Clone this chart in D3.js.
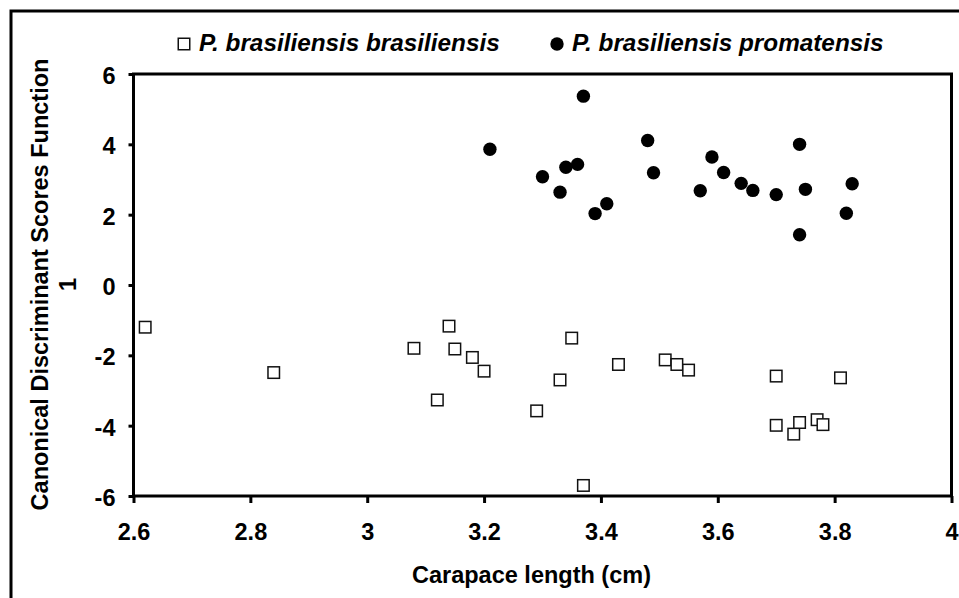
<!DOCTYPE html>
<html>
<head>
<meta charset="utf-8">
<script src="https://cdn.jsdelivr.net/npm/d3@7"></script>
<style>
	body { margin: 0; background: #fff; }
	svg { display: block; }
	text { font-family: Arial, "Liberation Sans", sans-serif; font-weight: bold; fill: #000; }
</style>
</head>
<body>
<div id="chart"></div>
<script>
'use strict';

//Series data
var brasX = [2.62, 2.84, 3.08, 3.14, 3.15, 3.18, 3.12, 3.20, 3.35, 3.33, 3.29, 3.43, 3.51, 3.53, 3.55, 3.37, 3.70, 3.81, 3.70, 3.73, 3.74, 3.77, 3.78];
var brasY = [-1.20, -2.49, -1.80, -1.17, -1.82, -2.06, -3.27, -2.45, -1.51, -2.70, -3.58, -2.26, -2.13, -2.26, -2.42, -5.70, -2.59, -2.64, -3.99, -4.24, -3.91, -3.83, -3.97];

var promX = [3.21, 3.37, 3.30, 3.33, 3.34, 3.36, 3.39, 3.41, 3.48, 3.49, 3.57, 3.59, 3.61, 3.64, 3.66, 3.70, 3.74, 3.75, 3.74, 3.82, 3.83];
var promY = [3.86, 5.37, 3.08, 2.64, 3.35, 3.43, 2.03, 2.31, 4.11, 3.19, 2.68, 3.64, 3.20, 2.89, 2.69, 2.57, 4.00, 2.72, 1.43, 2.04, 2.88];

var xTicks = [2.6, 2.8, 3, 3.2, 3.4, 3.6, 3.8, 4];
var yTicks = [-6, -4, -2, 0, 2, 4, 6];

var seriesNames = ["P. brasiliensis brasiliensis", "P. brasiliensis promatensis"];
var xTitle = "Carapace length (cm)";
var yTitleLines = ["Canonical Discriminant Scores Function", "1"];

var width = 959, height = 598;
var plot = { left: 133.5, right: 951.5, top: 74, bottom: 496 };

var svg = d3.select("#chart").append("svg")
	.attr("width", width)
	.attr("height", height);

//Outer frame (only left and top edges fall inside the picture)
svg.append("rect")
	.attr("x", 11).attr("y", 11)
	.attr("width", width + 20).attr("height", height + 20)
	.attr("fill", "none")
	.attr("stroke", "#000")
	.attr("stroke-width", 3);

var x = d3.scaleLinear().domain([2.6, 4]).range([plot.left, plot.right]);
var y = d3.scaleLinear().domain([-6, 6]).range([plot.bottom, plot.top]);

//Plain hyphen for negatives, like the original
var plainFormat = function(d) { return String(d); };

//Axes
var xAxis = d3.axisBottom(x).tickValues(xTicks).tickSize(7).tickPadding(20).tickFormat(plainFormat);
var yAxis = d3.axisLeft(y).tickValues(yTicks).tickSize(5).tickPadding(13).tickFormat(plainFormat);

var gx = svg.append("g").attr("transform", "translate(0," + plot.bottom + ")").call(xAxis);
var gy = svg.append("g").attr("transform", "translate(" + plot.left + ",0)").call(yAxis);

[gx, gy].forEach(function(g) {
	g.select(".domain").remove();
	g.selectAll(".tick line").attr("stroke", "#000").attr("stroke-width", 3);
	g.selectAll(".tick text")
		.attr("font-family", null)
		.style("font-size", "23.5px")
		.attr("fill", "#000");
});
gx.selectAll(".tick text").attr("dy", "0.71em");
gy.selectAll(".tick text").attr("dy", "0.4em");

//Plot area box
svg.append("rect")
	.attr("x", plot.left).attr("y", plot.top)
	.attr("width", plot.right - plot.left)
	.attr("height", plot.bottom - plot.top)
	.attr("fill", "none")
	.attr("stroke", "#000")
	.attr("stroke-width", 3);

//Points
var brasData = brasX.map(function(v, i) { return { x: v, y: brasY[i] }; });
var promData = promX.map(function(v, i) { return { x: v, y: promY[i] }; });

var sq = 11.5;
svg.append("g").selectAll("rect")
	.data(brasData)
	.enter().append("rect")
	.attr("x", function(d) { return x(d.x) - sq / 2; })
	.attr("y", function(d) { return y(d.y) - sq / 2; })
	.attr("width", sq).attr("height", sq)
	.attr("fill", "#fff")
	.attr("stroke", "#111")
	.attr("stroke-width", 1.5);

svg.append("g").selectAll("circle")
	.data(promData)
	.enter().append("circle")
	.attr("cx", function(d) { return x(d.x); })
	.attr("cy", function(d) { return y(d.y); })
	.attr("r", 6.7)
	.attr("fill", "#000");

//Legend
var legend = svg.append("g");
legend.append("rect")
	.attr("x", 184 - sq / 2).attr("y", 44 - sq / 2)
	.attr("width", sq).attr("height", sq)
	.attr("fill", "#fff").attr("stroke", "#111").attr("stroke-width", 1.5);
legend.append("text")
	.attr("x", 199).attr("y", 51)
	.style("font-size", "24.3px").style("font-style", "italic")
	.text(seriesNames[0]);
legend.append("circle")
	.attr("cx", 557).attr("cy", 44).attr("r", 6.7).attr("fill", "#000");
legend.append("text")
	.attr("x", 572).attr("y", 51)
	.style("font-size", "24.3px").style("font-style", "italic")
	.text(seriesNames[1]);

//Axis titles
svg.append("text")
	.attr("x", 531.5).attr("y", 583)
	.attr("text-anchor", "middle")
	.style("font-size", "23.5px")
	.text(xTitle);

var yTitle = svg.append("text")
	.attr("transform", "translate(48,284.5) rotate(-90)")
	.attr("text-anchor", "middle")
	.style("font-size", "23.5px");
yTitle.append("tspan").attr("x", 0).attr("y", 0).text(yTitleLines[0]);
yTitle.append("tspan").attr("x", 0).attr("y", 28).text(yTitleLines[1]);
</script>
</body>
</html>
